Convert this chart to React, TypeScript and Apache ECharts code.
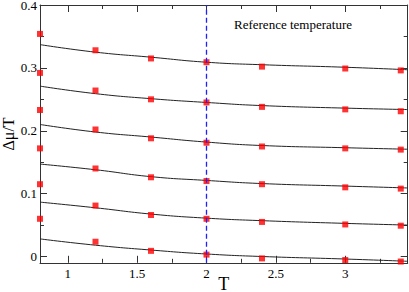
import React, { useEffect, useRef } from "react";
import * as echarts from "echarts";

// Simulation temperatures and Δμ/T values (red squares)
const temps = [0.8, 1.2, 1.6, 2.0, 2.4, 3.0, 3.4];
const sim1 = [0.354, 0.328, 0.315, 0.309, 0.302, 0.299, 0.296];
const sim2 = [0.292, 0.264, 0.25, 0.245, 0.238, 0.234, 0.231];
const sim3 = [0.233, 0.202, 0.188, 0.181, 0.175, 0.172, 0.17];
const sim4 = [0.172, 0.14, 0.126, 0.12, 0.115, 0.11, 0.108];
const sim5 = [0.115, 0.081, 0.066, 0.06, 0.055, 0.051, 0.049];
const sim6 = [0.06, 0.0235, 0.009, 0.003, -0.003, -0.0056, -0.008];

// Fitted curves (black lines)
const fitT = [0.8, 1.2, 1.6, 2.0, 2.4, 3.0, 3.45];
const fit1 = [0.337, 0.325, 0.317, 0.309, 0.305, 0.301, 0.297];
const fit2 = [0.271, 0.259, 0.251, 0.245, 0.24, 0.236, 0.2337];
const fit3 = [0.21, 0.198, 0.19, 0.182, 0.1765, 0.173, 0.1706];
const fit4 = [0.147, 0.138, 0.127, 0.121, 0.116, 0.112, 0.109];
const fit5 = [0.0865, 0.0775, 0.0675, 0.061, 0.057, 0.0527, 0.05];
const fit6 = [0.028, 0.018, 0.0103, 0.004, 0.0, -0.004, -0.0076];

const refT = 2.0;
const refLabel = "Reference temperature";

// Axis ticks
const xMajor = [1, 1.5, 2, 2.5, 3];
const xMinor = [1.25, 1.75, 2.25, 2.75, 3.25];
const yMajor = [0, 0.1, 0.2, 0.3, 0.4];
const yMinor = [0.05, 0.15, 0.25, 0.35];
const xRange = [0.8, 3.45];
const yRange = [-0.01, 0.4];

const sims = [sim1, sim2, sim3, sim4, sim5, sim6];
const fits = [fit1, fit2, fit3, fit4, fit5, fit6];

const FONT = "Liberation Serif";
const AXIS_COLOR = "#333";

export default function App() {
  const ref = useRef<HTMLDivElement>(null);
  useEffect(() => {
    if (!ref.current) return;
    const chart = echarts.init(ref.current, undefined, { renderer: "svg" });

    const mkX = (pos: string, vals: number[], len: number, labels: boolean, line: boolean, name?: string) => ({
      type: "value",
      position: pos,
      min: xRange[0],
      max: xRange[1],
      name: name || "",
      nameLocation: "middle",
      nameGap: 12,
      nameMoveOverlap: false,
      nameTextStyle: { fontFamily: FONT, fontSize: 18, color: "#000", verticalAlign: "top", lineHeight: 18 },
      axisLine: { show: line, onZero: false, lineStyle: { color: AXIS_COLOR, width: 1 } },
      axisTick: { show: true, inside: true, length: len, customValues: vals, lineStyle: { color: AXIS_COLOR } },
      axisLabel: {
        show: labels,
        customValues: vals,
        margin: 4,
        fontFamily: FONT,
        fontSize: 13,
        color: "#000",
      },
      splitLine: { show: false },
    });
    const mkY = (pos: string, vals: number[], len: number, labels: boolean, line: boolean, name?: string) => ({
      type: "value",
      position: pos,
      min: yRange[0],
      max: yRange[1],
      name: name || "",
      nameLocation: "middle",
      nameRotate: 90,
      nameGap: 24,
      nameMoveOverlap: false,
      nameTextStyle: { fontFamily: FONT, fontSize: 16, color: "#000", lineHeight: 16 },
      axisLine: { show: line, onZero: false, lineStyle: { color: AXIS_COLOR, width: 1 } },
      axisTick: { show: true, inside: true, length: len, customValues: vals, lineStyle: { color: AXIS_COLOR } },
      axisLabel: {
        show: labels,
        customValues: vals,
        margin: 3,
        fontFamily: FONT,
        fontSize: 13,
        lineHeight: 11,
        color: "#000",
        formatter: (v: number) => String(v),
      },
      splitLine: { show: false },
    });

    const series: any[] = [];
    fits.forEach((f, i) => {
      series.push({
        type: "line",
        name: "fit" + (i + 1),
        data: fitT.map((t, j) => [t, f[j]]),
        smooth: true,
        showSymbol: false,
        symbol: "none",
        lineStyle: { color: "#222", width: 1 },
        z: 2,
        silent: true,
      });
    });
    sims.forEach((s, i) => {
      series.push({
        type: "scatter",
        name: "sim" + (i + 1),
        data: temps.map((t, j) => [t, s[j]]),
        symbol: "rect",
        symbolSize: 6,
        itemStyle: { color: "#ff0000" },
        clip: false,
        z: 4,
      });
    });
    // reference temperature line
    series.push({
      type: "line",
      data: [],
      markLine: {
        silent: true,
        symbol: ["none", "none"],
        label: { show: false },
        lineStyle: { color: "#1f1fff", type: [5, 3], width: 1.3 },
        data: [{ xAxis: refT }],
      },
      z: 3,
    });

    chart.setOption({
      animation: false,
      backgroundColor: "#fff",
      grid: { left: 40, right: 1.3, top: 5, bottom: 29.2, containLabel: false, outerBoundsMode: "none" },
      xAxis: [
        mkX("bottom", xMajor, 7, true, true, "T"),
        mkX("bottom", xMinor, 4, false, false),
        mkX("top", xMajor, 7, false, true),
        mkX("top", xMinor, 4, false, false),
      ],
      yAxis: [
        mkY("left", yMajor, 7, true, true, "Δμ/T"),
        mkY("left", yMinor, 4, false, false),
        mkY("right", yMajor, 7, false, true),
        mkY("right", yMinor, 4, false, false),
      ],
      graphic: [
        {
          type: "text",
          x: 234,
          y: 24,
          style: {
            text: refLabel,
            fontFamily: FONT,
            fontSize: 13,
            fill: "#000",
            verticalAlign: "middle",
            align: "left",
          },
          z: 10,
        },
      ],
      series,
    });
    return () => chart.dispose();
  }, []);
  return (
    <div
      ref={ref}
      style={{ position: "fixed", left: 0, top: 0, width: 409, height: 292, background: "#fff" }}
    />
  );
}
